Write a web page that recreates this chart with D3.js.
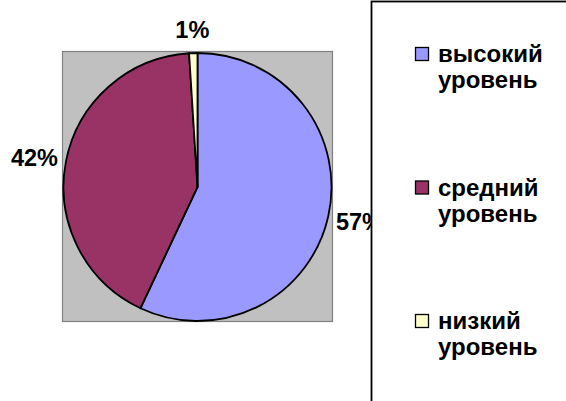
<!DOCTYPE html>
<html>
<head>
<meta charset="utf-8">
<script src="https://cdn.jsdelivr.net/npm/d3@7"></script>
<style>
  html,body{margin:0;padding:0;background:#fff}
  svg{display:block}
  text{font-family:"Liberation Sans",Arial,sans-serif;font-weight:bold;fill:#000}
</style>
</head>
<body>
<svg id="chart" width="566" height="401"></svg>
<script>
// данные диаграммы
const categories=['высокий уровень','средний уровень','низкий уровень']
const values=[57,42,1]
const colors=['#9999ff','#993366','#ffffcc']

const svg=d3.select('#chart')
const W=566,H=401

// область построения (серый фон)
const plot={x:62.5,y:51.5,w:270,h:270}
svg.append('rect')
  .attr('x',plot.x).attr('y',plot.y)
  .attr('width',plot.w).attr('height',plot.h)
  .attr('fill','#c0c0c0')
  .attr('stroke','#808080')
  .attr('stroke-width',1.2)

const cx=plot.x+plot.w/2,cy=plot.y+plot.h/2+0.5
const r=134

const pie=d3.pie().sort(null).value(d=>d)
const arcs=pie(values)
const arc=d3.arc().innerRadius(0).outerRadius(r)

const g=svg.append('g').attr('transform',`translate(${cx},${cy})`)
g.selectAll('path.slice')
  .data(arcs)
  .enter()
  .append('path')
  .attr('class','slice')
  .attr('d',arc)
  .attr('fill',(d,i)=>colors[i])
  .attr('stroke','#000')
  .attr('stroke-width',1.8)
  .attr('stroke-linejoin','round')

// подписи процентов снаружи
const fmt=d3.format('.0f')
const total=d3.sum(values)
g.selectAll('text.lbl')
  .data(arcs)
  .enter()
  .append('text')
  .attr('class','lbl')
  .attr('x',d=>{
    const a=(d.startAngle+d.endAngle)/2
    return Math.sin(a)*(r+32)
  })
  .attr('y',d=>{
    const a=(d.startAngle+d.endAngle)/2
    return -Math.cos(a)*(r+24)
  })
  .attr('dy','0.36em')
  .attr('text-anchor','middle')
  .attr('font-size',23.5)
  .text(d=>fmt(d.data/total*100)+'%')

// легенда
const legend=svg.append('g')
legend.append('rect')
  .attr('x',371.5).attr('y',1.5)
  .attr('width',W+10).attr('height',H+10)
  .attr('fill','#fff')
  .attr('stroke','#000')
  .attr('stroke-width',1.8)

const itemY=d3.scalePoint().domain(categories).range([54,321])
const items=legend.selectAll('g.item')
  .data(categories)
  .enter()
  .append('g')
  .attr('class','item')
  .attr('transform',d=>`translate(0,${itemY(d)})`)

items.append('rect')
  .attr('x',415.5).attr('y',-6.5)
  .attr('width',13).attr('height',13)
  .attr('fill',(d,i)=>colors[i])
  .attr('stroke','#000')
  .attr('stroke-width',1.3)

items.append('text')
  .attr('font-size',24)
  .selectAll('tspan')
  .data(d=>d.split(' '))
  .enter()
  .append('tspan')
  .attr('x',438)
  .attr('y',(d,i)=>8+i*26)
  .text(d=>d)
</script>
</body>
</html>
